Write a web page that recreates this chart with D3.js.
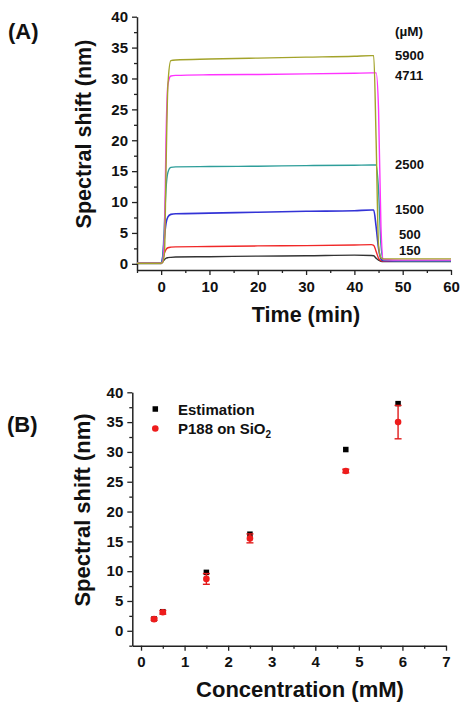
<!DOCTYPE html>
<html>
<head>
<meta charset="utf-8">
<script src="https://cdn.jsdelivr.net/npm/d3@7"></script>
<style>
  html, body { margin: 0; padding: 0; background: #fff; }
  svg { display: block; font-family: "Liberation Sans", Arial, sans-serif; font-weight: bold; }
</style>
</head>
<body>
<svg id="chart" width="465" height="708"></svg>
<script>
// ---------- Panel A data ----------
const times = [-5, 0, 0.3, 0.7, 1.0, 1.4, 2.0, 3, 10, 20, 30, 40, 43.5, 44.0, 44.5, 45.0, 45.5, 46.0, 50, 60];
const seriesNames = ["5900", "4711", "2500", "1500", "500", "150"];
const s5900 = [0.1, 0.1, 0.2, 2.0, 15, 29, 32.9, 33.0, 33.15, 33.3, 33.45, 33.6, 33.7, 33.7, 20, 3.0, 1.0, 0.8, 0.8, 0.8];
const s4711 = [0.1, 0.1, 0.3, 5.0, 20, 29, 30.4, 30.5, 30.6, 30.65, 30.75, 30.85, 30.9, 30.9, 30.9, 25, 6, 0.7, 0.6, 0.6];
const s2500 = [0.1, 0.1, 1.0, 7.0, 12, 14.8, 15.6, 15.7, 15.75, 15.8, 15.9, 15.95, 16.0, 16.0, 16.0, 12, 3, 0.6, 0.5, 0.5];
const s1500 = [0.1, 0.1, 1.0, 4.5, 6.5, 7.6, 8.0, 8.1, 8.2, 8.35, 8.5, 8.6, 8.7, 8.7, 6.0, 2.5, 0.8, 0.5, 0.45, 0.45];
const s500  = [0.1, 0.1, 0.6, 1.8, 2.3, 2.6, 2.7, 2.75, 2.8, 2.9, 2.95, 3.05, 3.1, 3.0, 2.0, 0.9, 0.5, 0.4, 0.4, 0.4];
const s150  = [0.05, 0.05, 0.3, 0.7, 0.9, 1.0, 1.05, 1.1, 1.15, 1.25, 1.3, 1.4, 1.35, 1.3, 0.9, 0.6, 0.4, 0.35, 0.35, 0.35];
const seriesValues = [s5900, s4711, s2500, s1500, s500, s150];
const seriesColors = ["#a3a32a", "#ff33ff", "#2e9e9a", "#3333d6", "#f02828", "#333333"];
const labelY = [33.8, 30.6, 16.2, 8.9, 4.8, 2.3]; // label vertical anchors (data units)
const xTicksA = [0, 10, 20, 30, 40, 50, 60];
const yTicksA = [0, 5, 10, 15, 20, 25, 30, 35, 40];

// ---------- Panel B data ----------
const conc = [0.3, 0.5, 1.5, 2.5, 4.7, 5.9];
const estimation = [2.0, 3.2, 9.8, 16.2, 30.4, 38.1];
const measured = [1.95, 3.1, 8.7, 15.5, 26.8, 35.0];
const measuredErr = [0.2, 0.3, 0.9, 0.75, 0.3, 2.8];
const xTicksB = [0, 1, 2, 3, 4, 5, 6, 7];
const yTicksB = [0, 5, 10, 15, 20, 25, 30, 35, 40];

const svg = d3.select("#chart");
const axisColor = "#222";

function styleAxis(g) {
  g.selectAll("path.domain").attr("stroke", axisColor).attr("stroke-width", 1.5);
  g.selectAll(".tick line").attr("stroke", axisColor).attr("stroke-width", 1.3);
  g.selectAll("text").attr("fill", "#111").style("font-size", "15px").style("font-weight", "bold")
    .style("font-family", '"Liberation Sans", Arial, sans-serif');
}

function drawAxes(x, y, xTicks, yTicks, xMinor, yMinor) {
  const [x0] = x.range();
  const [y0] = y.range();
  const gx = svg.append("g").attr("transform", `translate(0,${y0})`)
    .call(d3.axisBottom(x).tickValues(xTicks).tickSize(5).tickPadding(6).tickSizeOuter(0).tickFormat(d3.format("d")));
  styleAxis(gx);
  const gxm = svg.append("g").attr("transform", `translate(0,${y0})`)
    .call(d3.axisBottom(x).tickValues(xMinor).tickSize(3).tickFormat("").tickSizeOuter(0));
  gxm.select("path.domain").remove();
  styleAxis(gxm);
  const gy = svg.append("g").attr("transform", `translate(${x0},0)`)
    .call(d3.axisLeft(y).tickValues(yTicks).tickSize(5).tickPadding(4).tickSizeOuter(0).tickFormat(d3.format("d")));
  styleAxis(gy);
  const gym = svg.append("g").attr("transform", `translate(${x0},0)`)
    .call(d3.axisLeft(y).tickValues(yMinor).tickSize(3).tickFormat("").tickSizeOuter(0));
  gym.select("path.domain").remove();
  styleAxis(gym);
}

// ---------- Panel A ----------
const xA = d3.scaleLinear().domain([-5, 60]).range([137, 451]);
const yA = d3.scaleLinear().domain([-1, 40]).range([270, 16.7]);
drawAxes(xA, yA, xTicksA, yTicksA,
  [-5, 5, 15, 25, 35, 45, 55],
  [2.5, 7.5, 12.5, 17.5, 22.5, 27.5, 32.5, 37.5]);

const line = d3.line().x(d => xA(d[0])).y(d => yA(d[1])).curve(d3.curveMonotoneX);
for (let i = seriesValues.length - 1; i >= 0; i--) {
  const pts = times.map((t, j) => [t, seriesValues[i][j]]);
  svg.append("path").datum(pts).attr("d", line)
    .attr("fill", "none").attr("stroke", seriesColors[i])
    .attr("stroke-width", i === 3 ? 1.6 : 1.4);
}

svg.append("text").attr("x", 395).attr("y", 36).text("(\u00b5M)").style("font-size", "13.5px").attr("fill", "#111");
seriesNames.forEach((n, i) => {
  const xx = n.length === 3 ? 399 : 395;
  svg.append("text").attr("x", xx).attr("y", yA(labelY[i]) + 5)
    .text(n).style("font-size", "13px").attr("fill", "#111");
});

svg.append("text").attr("x", 8).attr("y", 39).text("(A)").style("font-size", "22px").attr("fill", "#111");
svg.append("text").attr("transform", `translate(91,134) rotate(-90)`).attr("text-anchor", "middle")
  .text("Spectral shift (nm)").style("font-size", "21.5px").attr("fill", "#111");
svg.append("text").attr("x", 306).attr("y", 322).attr("text-anchor", "middle")
  .text("Time (min)").style("font-size", "21.5px").attr("fill", "#111");

// ---------- Panel B ----------
const xB = d3.scaleLinear().domain([-0.2, 7]).range([132.3, 446]);
const yB = d3.scaleLinear().domain([-2.5, 40]).range([645.7, 392.3]);
drawAxes(xB, yB, xTicksB, yTicksB,
  [0.5, 1.5, 2.5, 3.5, 4.5, 5.5, 6.5],
  [-2.5, 2.5, 7.5, 12.5, 17.5, 22.5, 27.5, 32.5, 37.5]);

const sq = 5.5;
svg.append("g").selectAll("rect").data(conc).join("rect")
  .attr("x", (d) => xB(d) - sq / 2)
  .attr("y", (d, i) => yB(estimation[i]) - sq / 2)
  .attr("width", sq).attr("height", sq).attr("fill", "#000");

const eb = svg.append("g").attr("stroke", "#e01c1c").attr("stroke-width", 1.4);
conc.forEach((c, i) => {
  const cx = xB(c), top = yB(measured[i] + measuredErr[i]), bot = yB(measured[i] - measuredErr[i]);
  eb.append("line").attr("x1", cx).attr("x2", cx).attr("y1", top).attr("y2", bot);
  eb.append("line").attr("x1", cx - 3.5).attr("x2", cx + 3.5).attr("y1", top).attr("y2", top);
  eb.append("line").attr("x1", cx - 3.5).attr("x2", cx + 3.5).attr("y1", bot).attr("y2", bot);
});
svg.append("g").selectAll("circle").data(conc).join("circle")
  .attr("cx", d => xB(d)).attr("cy", (d, i) => yB(measured[i])).attr("r", 3.3).attr("fill", "#ee1c1c");

// legend
svg.append("rect").attr("x", 155.3 - sq / 2).attr("y", 409 - sq / 2).attr("width", sq).attr("height", sq).attr("fill", "#000");
svg.append("text").attr("x", 178).attr("y", 414.5).text("Estimation").style("font-size", "15px").attr("fill", "#111");
svg.append("circle").attr("cx", 155.3).attr("cy", 428.5).attr("r", 3.3).attr("fill", "#ee1c1c");
const lt = svg.append("text").attr("x", 178).attr("y", 434).style("font-size", "15px").attr("fill", "#111");
lt.append("tspan").text("P188 on SiO");
lt.append("tspan").attr("dy", 4).style("font-size", "10px").text("2");

svg.append("text").attr("x", 7).attr("y", 432).text("(B)").style("font-size", "22px").attr("fill", "#111");
svg.append("text").attr("transform", `translate(90,510) rotate(-90)`).attr("text-anchor", "middle")
  .text("Spectral shift (nm)").style("font-size", "22px").attr("fill", "#111");
svg.append("text").attr("x", 300).attr("y", 697).attr("text-anchor", "middle")
  .text("Concentration (mM)").style("font-size", "22px").attr("fill", "#111");
</script>
</body>
</html>
